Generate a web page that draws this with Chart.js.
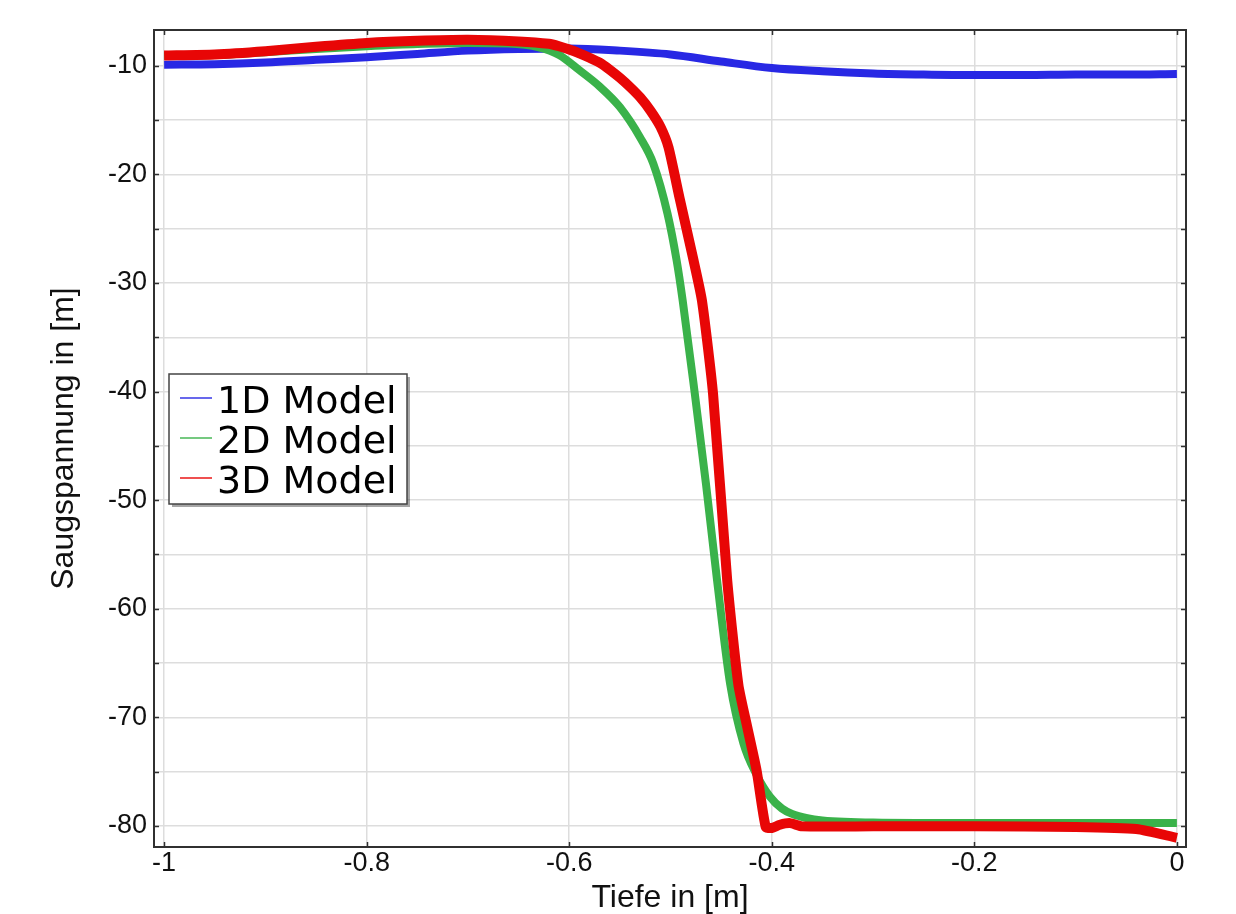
<!DOCTYPE html>
<html>
<head>
<meta charset="utf-8">
<title>Saugspannung</title>
<script src="https://cdn.jsdelivr.net/npm/chart.js@4/dist/chart.umd.min.js"></script>
<style>
  html, body { margin: 0; padding: 0; background: #fff; }
  canvas { display: block; }
</style>
</head>
<body>
<canvas id="suctionChart" width="1236" height="914"></canvas>
<script>
// Tiefe [m] und Saugspannung [m] der drei Modelle
const depth1D = [-1, -0.95, -0.9, -0.85, -0.8, -0.75, -0.7, -0.65, -0.6, -0.55, -0.5, -0.45, -0.4, -0.35, -0.3, -0.25, -0.2, -0.15, -0.1, -0.05, 0];
const suction1D = [-9.9, -9.85, -9.7, -9.45, -9.2, -8.9, -8.6, -8.45, -8.4, -8.6, -8.95, -9.6, -10.2, -10.5, -10.7, -10.8, -10.85, -10.85, -10.8, -10.8, -10.75];

const depth2D = [-1, -0.95, -0.9, -0.85, -0.8, -0.75, -0.7, -0.66, -0.63, -0.61, -0.59, -0.57, -0.55, -0.53, -0.517, -0.503, -0.494, -0.488, -0.476, -0.465, -0.454, -0.441, -0.428, -0.415, -0.402, -0.39, -0.38, -0.365, -0.35, -0.3, -0.2, -0.1, 0];
const suction2D = [-9.1, -9.0, -8.75, -8.45, -8.2, -8.0, -7.9, -7.95, -8.3, -9.0, -10.4, -11.9, -13.8, -16.6, -19.0, -23.6, -27.9, -31.6, -40.2, -48.5, -57.4, -67.0, -72.4, -75.3, -77.3, -78.4, -78.9, -79.3, -79.5, -79.7, -79.75, -79.75, -79.75];

const depth3D = [-1, -0.95, -0.9, -0.85, -0.8, -0.75, -0.7, -0.65, -0.62, -0.61, -0.6, -0.59, -0.58, -0.57, -0.56, -0.55, -0.54, -0.53, -0.52, -0.51, -0.502, -0.491, -0.478, -0.469, -0.458, -0.444, -0.433, -0.424, -0.415, -0.406, -0.4, -0.392, -0.382, -0.37, -0.3, -0.2, -0.1, -0.04, 0];
const suction3D = [-9.05, -8.95, -8.65, -8.25, -7.9, -7.7, -7.6, -7.75, -7.97, -8.2, -8.5, -8.85, -9.25, -9.7, -10.35, -11.1, -11.95, -12.9, -14.1, -15.6, -17.5, -22.2, -27.6, -31.6, -40.2, -57.4, -67.0, -71.0, -74.9, -80.1, -80.2, -79.9, -79.75, -80.05, -80.05, -80.05, -80.1, -80.3, -81.1];

const modelLabels = ['1D Model', '2D Model', '3D Model'];
const xTicks = [-1, -0.8, -0.6, -0.4, -0.2, 0];
const yTicks = [-80, -75, -70, -65, -60, -55, -50, -45, -40, -35, -30, -25, -20, -15, -10];

function toPoints(xs, ys) {
  return xs.map((x, i) => ({ x: x, y: ys[i] }));
}

// Rahmen mit kurzen Innen-Ticks auf allen vier Seiten
const framePlugin = {
  id: 'frame',
  afterDatasetsDraw(chart) {
    const { ctx, chartArea: a, scales } = chart;
    ctx.save();
    ctx.strokeStyle = '#303030';
    ctx.lineWidth = 2;
    ctx.strokeRect(a.left, a.top, a.right - a.left, a.bottom - a.top);
    ctx.lineWidth = 1.5;
    ctx.beginPath();
    scales.x.ticks.forEach(t => {
      const px = Math.round(scales.x.getPixelForValue(t.value)) + 0.5;
      ctx.moveTo(px, a.top); ctx.lineTo(px, a.top + 5);
      ctx.moveTo(px, a.bottom); ctx.lineTo(px, a.bottom - 5);
    });
    scales.y.ticks.forEach(t => {
      const py = Math.round(scales.y.getPixelForValue(t.value)) + 0.5;
      ctx.moveTo(a.left, py); ctx.lineTo(a.left + 5, py);
      ctx.moveTo(a.right, py); ctx.lineTo(a.right - 5, py);
    });
    ctx.stroke();
    ctx.restore();
  }
};

// Legende im Diagramm mit Schatten
const legendBoxPlugin = {
  id: 'legendBox',
  afterDraw(chart) {
    const { ctx, chartArea: a } = chart;
    const bx = a.left + 15, by = a.top + 344, bw = 238, bh = 130;
    ctx.save();
    ctx.fillStyle = 'rgba(0,0,0,0.35)';
    ctx.fillRect(bx + 3, by + 3, bw, bh);
    ctx.fillStyle = '#fff';
    ctx.fillRect(bx, by, bw, bh);
    ctx.strokeStyle = '#444';
    ctx.lineWidth = 1.5;
    ctx.strokeRect(bx, by, bw, bh);
    ctx.font = '38px "DejaVu Sans"';
    ctx.textBaseline = 'alphabetic';
    modelLabels.forEach((label, i) => {
      const ds = chart.data.datasets.find(d => d.label === label);
      const base = by + 39 + i * 40;
      ctx.globalAlpha = 0.7;
      ctx.strokeStyle = ds.borderColor;
      ctx.lineWidth = 2;
      ctx.beginPath();
      ctx.moveTo(bx + 11, base - 15);
      ctx.lineTo(bx + 43, base - 15);
      ctx.stroke();
      ctx.globalAlpha = 1;
      ctx.fillStyle = '#000';
      ctx.fillText(label, bx + 48, base);
    });
    ctx.restore();
  }
};

const ctx = document.getElementById('suctionChart').getContext('2d');
new Chart(ctx, {
  type: 'line',
  data: {
    datasets: [
      {
        label: modelLabels[0],
        data: toPoints(depth1D, suction1D),
        borderColor: 'rgb(40,40,228)',
        borderWidth: 8,
        cubicInterpolationMode: 'monotone',
        order: 3
      },
      {
        label: modelLabels[1],
        data: toPoints(depth2D, suction2D),
        borderColor: 'rgb(58,178,74)',
        borderWidth: 8,
        cubicInterpolationMode: 'monotone',
        order: 2
      },
      {
        // 3D-Verlauf: leicht geglättet, Knicke bleiben sichtbar
        label: modelLabels[2],
        data: toPoints(depth3D, suction3D),
        borderColor: 'rgb(232,6,6)',
        borderWidth: 10,
        tension: 0.2,
        borderJoinStyle: 'round',
        order: 1
      }
    ]
  },
  options: {
    responsive: false,
    animation: false,
    devicePixelRatio: 1,
    events: [],
    elements: {
      point: { radius: 0 },
      line: { fill: false }
    },
    layout: { padding: { top: 30, right: 50, left: 0, bottom: 0 } },
    plugins: {
      legend: { display: false },
      tooltip: { enabled: false }
    },
    scales: {
      x: {
        type: 'linear',
        min: -1.01,
        max: 0.009,
        afterBuildTicks(scale) { scale.ticks = xTicks.map(v => ({ value: v })); },
        afterFit(scale) { scale.height = 67; },
        grid: { color: '#dddddd', lineWidth: 1.5, drawTicks: false },
        border: { display: false },
        ticks: {
          autoSkip: false,
          maxRotation: 0,
          padding: 3,
          color: '#111',
          font: { family: '"Liberation Sans", Arial, sans-serif', size: 27, lineHeight: 1 },
          callback: v => String(v)
        },
        title: {
          display: true,
          text: 'Tiefe in [m]',
          color: '#111',
          padding: 0,
          font: { family: '"Liberation Sans", Arial, sans-serif', size: 32, lineHeight: 1 }
        }
      },
      y: {
        type: 'linear',
        min: -81.95,
        max: -6.7,
        afterBuildTicks(scale) { scale.ticks = yTicks.map(v => ({ value: v })); },
        afterFit(scale) { scale.width = 154; },
        grid: { color: '#dddddd', lineWidth: 1.5, drawTicks: false },
        border: { display: false },
        ticks: {
          autoSkip: false,
          padding: 7,
          color: '#111',
          font: { family: '"Liberation Sans", Arial, sans-serif', size: 27, lineHeight: 1 },
          callback: v => (v % 10 === 0 ? String(v) : '')
        },
        title: {
          display: true,
          text: 'Saugspannung in [m]',
          color: '#111',
          padding: { top: 48, bottom: 0 },
          font: { family: '"Liberation Sans", Arial, sans-serif', size: 32, lineHeight: 1 }
        }
      }
    }
  },
  plugins: [framePlugin, legendBoxPlugin]
});
</script>
</body>
</html>
